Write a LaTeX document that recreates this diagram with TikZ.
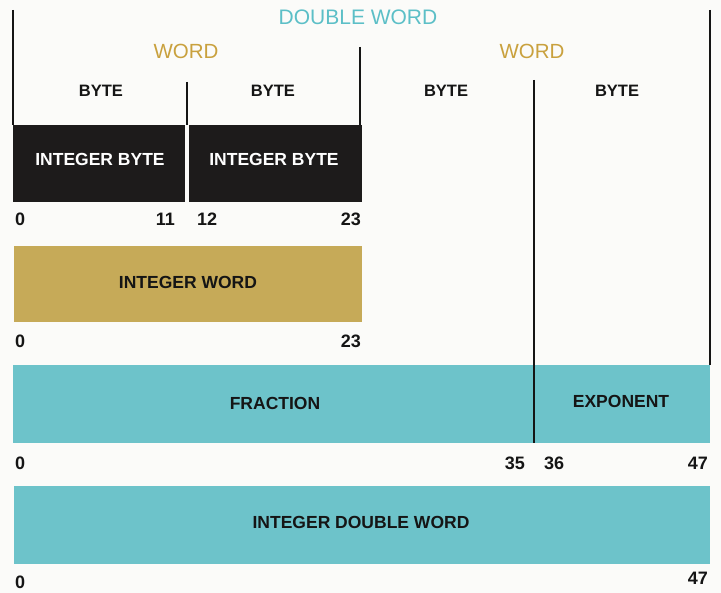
\documentclass[tikz,border=0pt]{standalone}
\usepackage{fontspec}
\setmainfont{Liberation Sans}
\definecolor{bg}{HTML}{FBFBF9}
\definecolor{cyanfill}{HTML}{6DC3CA}
\definecolor{goldfill}{HTML}{C6AA58}
\definecolor{blackfill}{HTML}{1D1B1B}
\definecolor{dwtext}{HTML}{5CBFC7}
\definecolor{wtext}{HTML}{C9A13E}
\definecolor{ink}{HTML}{151515}
\tikzset{
  field/.style={draw=none, inner sep=0pt, anchor=north west},
  blackbox/.style={field, fill=blackfill, minimum height=77pt},
  goldbox/.style={field, fill=goldfill, minimum height=76pt},
  cyanbox/.style={field, fill=cyanfill, minimum height=78pt},
  lbl/.style={inner sep=0pt, text=ink, font=\fontsize{17.5}{20}\selectfont\bfseries},
  bytelbl/.style={inner sep=0pt, text=ink, font=\fontsize{16.5}{19}\selectfont\bfseries},
  wordlbl/.style={inner sep=0pt, text=wtext, font=\fontsize{20.5}{24}\selectfont},
  dwlbl/.style={inner sep=0pt, text=dwtext, font=\fontsize{21}{25}\selectfont},
  num/.style={inner sep=0pt, text=ink, font=\fontsize{18}{21}\selectfont\bfseries},
  bracket/.style={draw=ink, line width=1.7pt},
}
\begin{document}
\begin{tikzpicture}[x=1pt,y=-1pt]
\fill[bg] (0,0) rectangle (721,593);
\useasboundingbox (0,0) rectangle (721,593);

% boxes
\node[blackbox, minimum width=172pt] (ib1) at (13,125) {};
\node[blackbox, minimum width=173pt] (ib2) at (189,125) {};
\node[goldbox, minimum width=348pt] (iw) at (14,246) {};
\node[cyanbox, minimum width=697pt] (fp) at (13,365) {};
\node[cyanbox, minimum width=696pt] (idw) at (14,486) {};

% box labels
\node[lbl, text=white] (t1) at (100,159) {INTEGER BYTE};
\node[lbl, text=white] (t2) at (274,159) {INTEGER BYTE};
\node[lbl] (t3) at (188,282) {INTEGER WORD};
\node[lbl] (t4) at (275,403) {FRACTION};
\node[lbl] (t5) at (621,401) {EXPONENT};
\node[lbl] (t6) at (361,522) {INTEGER DOUBLE WORD};

% header labels
\node[dwlbl] (dw) at (358,17.5) {DOUBLE WORD};
\node[wordlbl] (w1) at (186,51) {WORD};
\node[wordlbl] (w2) at (532,51) {WORD};
\node[bytelbl] (b1) at (101,91) {BYTE};
\node[bytelbl] (b2) at (273,91) {BYTE};
\node[bytelbl] (b3) at (446,91) {BYTE};
\node[bytelbl] (b4) at (617,91) {BYTE};

% bracket coordinates
\coordinate (lt) at (13,10);
\coordinate (lb) at (13,125);
\coordinate (rt) at (710,10);
\coordinate (rb) at (710,365);
\coordinate (mt) at (360,47);
\coordinate (mb) at (360,125);
\coordinate (bt) at (187,82);
\coordinate (bb) at (187,125);
\coordinate (et) at (534,80);
\coordinate (eb) at (534,443);

\draw[bracket] (lt) -- (lb);
\draw[bracket] (rt) -- (rb);
\draw[bracket] (mt) -- (mb);
\draw[bracket] (bt) -- (bb);
\draw[bracket] (et) -- (eb);

% bit numbers
\node[num, anchor=west] (n1a) at (15,219) {0};
\node[num, anchor=east] (n1b) at (175,219) {11};
\node[num, anchor=west] (n1c) at (197,219) {12};
\node[num, anchor=east] (n1d) at (361,219) {23};
\node[num, anchor=west] (n2a) at (15,341) {0};
\node[num, anchor=east] (n2b) at (361,341) {23};
\node[num, anchor=west] (n3a) at (15,463) {0};
\node[num, anchor=east] (n3b) at (525,463) {35};
\node[num, anchor=west] (n3c) at (544,463) {36};
\node[num, anchor=east] (n3d) at (708,463) {47};
\node[num, anchor=west] (n4a) at (15,582) {0};
\node[num, anchor=east] (n4b) at (708,578) {47};
\end{tikzpicture}
\end{document}
